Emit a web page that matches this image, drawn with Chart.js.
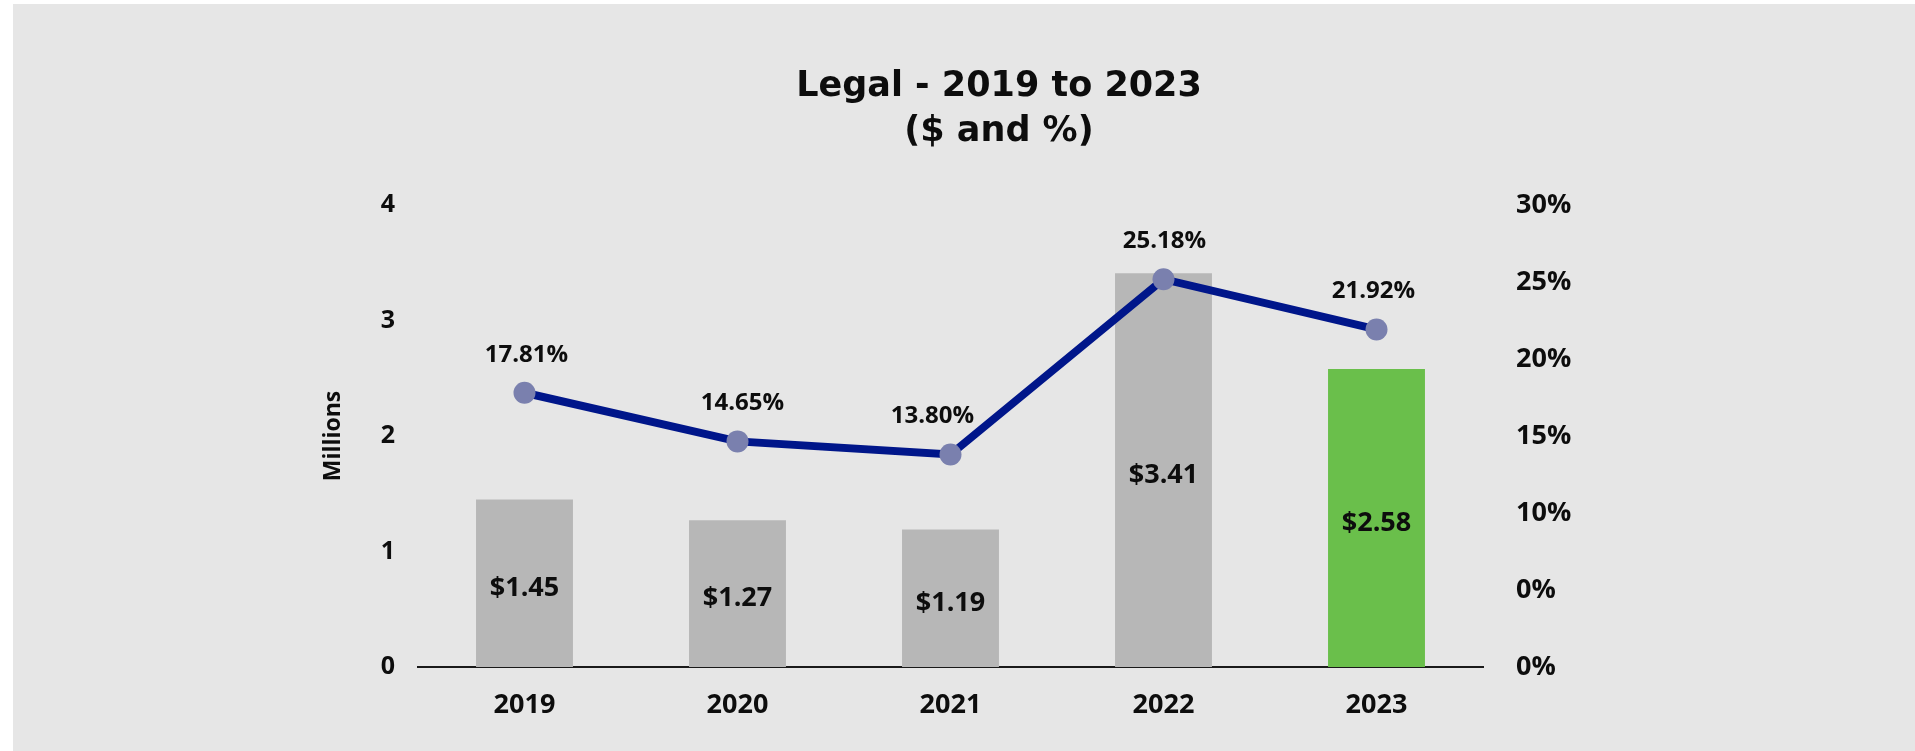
<!DOCTYPE html>
<html>
<head>
<meta charset="utf-8">
<script src="https://cdn.jsdelivr.net/npm/chart.js@4"></script>
<style>
  html, body { margin: 0; padding: 0; background: #ffffff; width: 1915px; height: 751px; overflow: hidden; }
  #wrap { position: absolute; left: 13px; top: 4px; width: 1902px; height: 747px; background: #e6e6e6; }
  canvas { display: block; }
</style>
</head>
<body>
<div id="wrap"><canvas id="c" width="1902" height="747"></canvas></div>
<script>
// ---- data ----
const categories = ['2019', '2020', '2021', '2022', '2023'];
const legalMillions = [1.45, 1.27, 1.19, 3.41, 2.58];
const legalPercent = [17.81, 14.65, 13.80, 25.18, 21.92];
const leftTickValues = [0, 1, 2, 3, 4];
const rightTickLabels = ['0%', '0%', '10%', '15%', '20%', '25%', '30%'];
const titleLines = ['Legal - 2019 to 2023', '($ and %)'];
const yAxisTitle = 'Millions';

const barColors = ['#b7b7b7', '#b7b7b7', '#b7b7b7', '#b7b7b7', '#6abf4b'];
const TEXT = '#0d0d0d';
const FONT = "'Open Sans', 'DejaVu Sans', sans-serif";

const labelPlugin = {
  id: 'valueLabels',
  afterDatasetsDraw(chart, args, opts) {
    const ctx = chart.ctx;
    ctx.save();
    ctx.fillStyle = TEXT;
    ctx.textAlign = 'center';
    ctx.textBaseline = 'middle';
    // bar labels
    const barMeta = chart.getDatasetMeta(0);
    ctx.font = "bold 27px " + FONT;
    barMeta.data.forEach((el, i) => {
      const v = chart.data.datasets[0].data[i];
      ctx.fillText('$' + v.toFixed(2), el.x, (el.y + el.base) / 2 + 5);
    });
    // line labels
    const lineMeta = chart.getDatasetMeta(1);
    ctx.font = "bold 24px " + FONT;
    lineMeta.data.forEach((el, i) => {
      const v = chart.data.datasets[1].data[i];
      const nudge = (opts.nudgeX && opts.nudgeX[i]) || 0;
      ctx.fillText(v.toFixed(2) + '%', el.x + nudge, el.y - 38);
    });
    ctx.restore();
  }
};

new Chart(document.getElementById('c'), {
  type: 'bar',
  data: {
    labels: categories,
    datasets: [
      {
        type: 'bar',
        label: 'Legal ($M)',
        data: legalMillions,
        backgroundColor: barColors,
        borderWidth: 0,
        yAxisID: 'y',
        order: 2,
        categoryPercentage: 1.0,
        barPercentage: 0.455
      },
      {
        type: 'line',
        label: 'Legal (%)',
        data: legalPercent,
        borderColor: '#00168a',
        borderWidth: 8,
        pointRadius: 11,
        pointHoverRadius: 11,
        pointBackgroundColor: '#7a80ae',
        pointBorderWidth: 0,
        tension: 0,
        fill: false,
        yAxisID: 'y1',
        order: 1
      }
    ]
  },
  options: {
    responsive: false,
    animation: false,
    layout: { padding: { left: 303, right: 233, top: 0, bottom: 0 } },
    plugins: {
      legend: { display: false },
      tooltip: { enabled: false },
      title: {
        display: true,
        text: titleLines,
        color: TEXT,
        font: { family: "'DejaVu Sans', sans-serif", size: 35, weight: 'bold', lineHeight: 1.3 },
        padding: { top: 60, bottom: 50 }
      },
      valueLabels: { nudgeX: [2, 5, -18, 1, -3] }
    },
    scales: {
      x: {
        grid: { display: false, drawTicks: false },
        border: { display: true, color: '#1a1a1a', width: 2 },
        ticks: { color: TEXT, font: { family: FONT, size: 27, weight: 'bold' }, padding: 22 },
        afterFit(scale) { scale.height = 84; }
      },
      y: {
        position: 'left',
        min: 0,
        max: 4,
        grid: { display: false, drawTicks: false },
        border: { display: false },
        afterBuildTicks(scale) { scale.ticks = leftTickValues.map(v => ({ value: v })); },
        ticks: {
          color: TEXT,
          font: { family: FONT, size: 25, weight: 'bold' },
          padding: 23,
          callback: (v) => String(v)
        },
        title: {
          display: true,
          text: yAxisTitle,
          color: TEXT,
          font: { family: FONT, size: 23, weight: 'bold', lineHeight: 1.2 },
          padding: { top: 4, bottom: 4 }
        },
        afterFit(scale) { scale.width = 102; }
      },
      y1: {
        position: 'right',
        min: 0,
        max: 30,
        grid: { display: false, drawTicks: false },
        border: { display: false },
        ticks: {
          stepSize: 5,
          color: TEXT,
          font: { family: FONT, size: 27, weight: 'bold' },
          padding: 33,
          callback: (v, i) => rightTickLabels[i]
        },
        afterFit(scale) { scale.width = 199; }
      }
    }
  },
  plugins: [labelPlugin]
});
</script>
</body>
</html>
